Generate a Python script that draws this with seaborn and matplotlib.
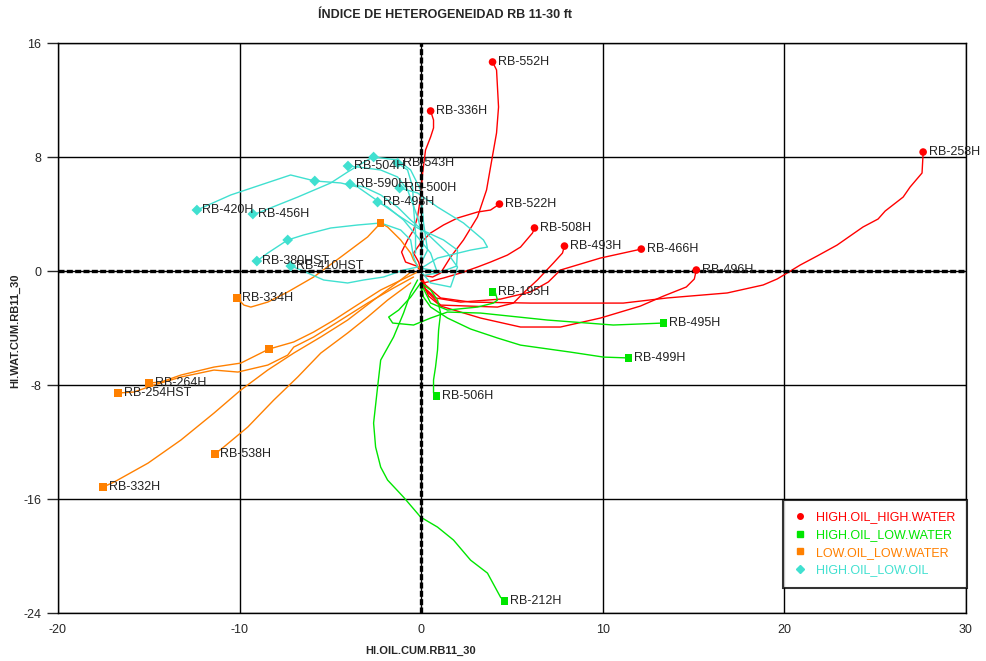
import seaborn as sns
import matplotlib.pyplot as plt
import pandas as pd
from matplotlib.lines import Line2D

# trajectories (origin -> last point)
high_high = {
    "RB-552H": ([0.02, 0.63, 1.07, 1.62, 2.33, 3.1, 3.6, 3.82, 4.15, 4.26, 4.15, 3.93],
                [-0.28, -0.42, -0.14, 0.98, 2.18, 3.79, 5.69, 7.3, 9.69, 11.51, 14.11, 14.67]),
    "RB-336H": ([0.02, -0.25, -0.86, -1.08, -0.75, -0.42, -0.2, -0.03, 0.08, 0.24, 0.52, 0.68, 0.68, 0.52],
                [-0.07, 0.35, 0.63, 1.33, 2.18, 2.88, 3.79, 5.2, 6.88, 8.49, 9.41, 10.04, 10.6, 11.23]),
    "RB-258H": ([-0.03, 0.24, 1.07, 2.72, 6.02, 9.87, 11.13, 13.55, 16.85, 18.83, 19.6, 20.15, 20.87, 21.8,
                 22.9, 23.62, 24.33, 25.16, 25.55, 26.54, 26.92, 27.58, 27.64, 27.64],
                [-0.28, -0.98, -1.89, -2.18, -2.25, -2.25, -2.25, -1.89, -1.54, -0.98, -0.56, -0.14, 0.42, 1.05,
                 1.82, 2.46, 3.09, 3.65, 4.21, 5.19, 5.89, 6.88, 8.28, 8.35]),
    "RB-522H": ([0.02, -0.14, -0.42, -0.03, 0.52, 1.23, 2.0, 3.1, 3.82, 4.31],
                [-0.07, 0.63, 1.26, 1.97, 2.67, 3.23, 3.72, 4.14, 4.28, 4.7]),
    "RB-508H": ([-0.03, 0.13, 1.23, 2.17, 3.1, 3.82, 4.75, 5.47, 6.13, 6.24],
                [-0.63, -0.84, -0.49, -0.14, 0.28, 0.63, 1.12, 1.68, 2.67, 3.02]),
    "RB-493H": ([0.02, 0.24, 1.07, 4.2, 5.08, 5.63, 6.4, 7.28, 7.78, 7.89],
                [-0.35, -1.33, -2.39, -2.53, -2.25, -1.54, -0.63, 0.56, 1.26, 1.75]),
    "RB-466H": ([0.02, 0.19, 0.79, 2.17, 4.37, 6.02, 7.0, 7.67, 9.87, 12.12],
                [-0.49, -1.19, -1.89, -2.18, -1.97, -1.47, -0.77, 0.07, 0.91, 1.54]),
    "RB-496H": ([0.02, 0.13, 0.41, 1.07, 3.27, 5.47, 7.67, 9.87, 12.07, 13.34, 14.6, 15.04, 15.15],
                [-0.28, -0.98, -1.76, -2.46, -3.3, -3.93, -3.93, -3.3, -2.46, -1.76, -1.12, -0.56, 0.07]),
}

high_low_water = {
    "RB-195H": ([0.08, 0.52, 1.45, 3.1, 3.98, 4.2, 4.09, 3.93],
                [-1.12, -2.25, -2.74, -2.53, -2.25, -2.04, -1.54, -1.47]),
    "RB-495H": ([-0.03, -0.58, -1.24, -1.79, -1.57, -0.42, 0.52, 1.45, 3.27, 6.95, 10.58, 13.34],
                [-0.84, -1.83, -2.74, -3.23, -3.65, -3.79, -3.3, -2.88, -2.95, -3.44, -3.79, -3.65]),
    "RB-499H": ([-0.03, 0.13, 0.52, 1.45, 2.72, 4.2, 5.47, 8.22, 10.04, 11.41],
                [-0.84, -1.83, -2.53, -3.3, -4.07, -4.7, -5.2, -5.69, -6.04, -6.1]),
    "RB-506H": ([-0.03, 0.52, 0.9, 1.07, 0.96, 0.9, 0.79, 0.68, 0.68, 0.85],
                [-0.84, -1.33, -2.04, -2.95, -4.14, -5.55, -6.74, -7.65, -8.56, -8.77]),
    "RB-212H": ([-0.2, -0.58, -0.97, -1.52, -2.23, -2.4, -2.62, -2.51, -2.23, -1.85, -0.97, -0.03, 0.9, 1.78,
                 2.72, 3.65, 4.37, 4.59],
                [-0.63, -1.54, -2.95, -4.63, -6.25, -8.14, -10.67, -12.35, -13.76, -14.67, -15.87, -17.27, -17.97,
                 -18.88, -20.29, -21.2, -22.89, -23.17]),
}

low_low_water = {
    "RB-334H": ([-0.03, -0.42, -0.58, -1.13, -1.85, -2.23, -2.95, -4.43, -5.92, -7.35, -8.45, -9.38, -9.76, -10.15],
                [0.07, 0.77, 1.26, 2.18, 3.09, 3.37, 2.39, 0.98, -0.42, -1.47, -2.18, -2.53, -2.39, -1.89]),
    "RB-264H": ([-0.2, -0.75, -2.23, -3.7, -4.8, -5.92, -7.02, -8.39, -9.93, -11.41, -13.23, -14.33, -14.99],
                [-0.07, -0.42, -1.33, -2.53, -3.44, -4.28, -4.98, -5.48, -6.46, -6.74, -7.3, -7.79, -7.86]),
    "RB-254HST": ([-0.42, -1.52, -2.95, -4.43, -5.92, -7.02, -7.35, -8.45, -10.09, -11.41, -13.23, -14.71, -15.81, -16.69],
                  [-0.42, -1.19, -2.25, -3.44, -4.63, -5.34, -5.9, -6.6, -7.09, -6.95, -7.44, -8.0, -8.49, -8.56]),
    "RB-538H": ([-0.58, -1.85, -2.95, -4.05, -5.53, -6.8, -8.12, -9.55, -10.87, -11.36],
                [-0.84, -2.04, -3.23, -4.35, -5.76, -7.44, -9.06, -10.95, -12.35, -12.84]),
    "RB-332H": ([-0.42, -1.13, -2.62, -4.05, -5.53, -7.02, -8.45, -9.93, -11.41, -13.23, -15.04, -16.91, -17.52],
                [0.07, -0.63, -2.04, -3.44, -4.63, -5.76, -6.95, -8.35, -9.97, -11.86, -13.48, -14.81, -15.16]),
}

high_low_oil = {
    "RB-420H": ([-0.03, 1.07, 1.95, 2.0, 1.23, -0.2, -1.3, -2.62, -3.5, -4.43, -5.86, -7.19, -8.84, -10.48, -12.35],
                [0.21, -0.07, 0.35, 1.47, 2.18, 3.02, 3.93, 5.12, 5.9, 6.18, 6.32, 6.74, 6.04, 5.34, 4.28]),
    "RB-456H": ([0.08, 0.35, 0.13, -0.03, -0.58, -1.3, -2.62, -2.95, -4.05, -4.98, -6.8, -9.0, -9.27],
                [0.77, 1.47, 3.37, 5.69, 7.09, 7.79, 8.0, 7.79, 6.95, 6.18, 5.19, 4.07, 4.0]),
    "RB-504H": ([-0.03, 0.13, -0.2, -0.75, -1.3, -2.23, -3.5, -4.03],
                [0.77, 2.18, 3.79, 5.69, 6.6, 7.09, 7.3, 7.37]),
    "RB-543H": ([-0.31, -0.31, -0.42, -0.47, -0.75, -1.3],
                [1.26, 2.67, 4.49, 5.9, 7.09, 7.58]),
    "RB-590H": ([0.02, 0.52, 1.62, 2.0, 1.45, 0.52, -0.58, -1.3, -2.23, -3.17, -3.92],
                [-0.07, -0.84, -1.12, 0.28, 1.26, 2.39, 3.58, 4.49, 5.34, 5.9, 6.1]),
    "RB-500H": ([0.02, 0.9, 2.72, 3.65, 3.43, 2.33, 0.9, -0.2, -1.19],
                [0.21, 0.91, 1.47, 1.68, 2.18, 3.37, 4.49, 5.48, 5.82]),
    "RB-498H": ([0.24, 0.9, 0.52, -0.2, -0.97, -1.85, -2.4],
                [-0.28, -0.14, 1.26, 2.39, 3.58, 4.49, 4.84]),
    "RB-380HST": ([-0.2, -0.42, -0.58, -1.13, -2.23, -3.5, -4.98, -6.47, -7.35, -8.45, -9.05],
                  [0.28, 0.98, 2.18, 2.88, 3.37, 3.23, 3.02, 2.53, 2.18, 1.26, 0.7]),
    "RB-410HST": ([-0.2, -0.97, -2.07, -3.17, -4.05, -5.37, -6.62, -7.18],
                  [0.28, 0.07, -0.42, -0.63, -0.84, -0.63, 0.07, 0.35]),
}

# intermediate markers along some paths
mid_x = [-5.86, -2.62, -7.35, -8.39, -2.23]
mid_y = [6.32, 8.0, 2.18, -5.48, 3.37]
mid_group = ["HIGH.OIL_LOW.OIL", "HIGH.OIL_LOW.OIL", "HIGH.OIL_LOW.OIL",
             "LOW.OIL_LOW.WATER", "LOW.OIL_LOW.WATER"]

groups = ["HIGH.OIL_HIGH.WATER", "HIGH.OIL_LOW.WATER", "LOW.OIL_LOW.WATER", "HIGH.OIL_LOW.OIL"]
colors = ["#FF0000", "#00E600", "#FF8000", "#40E0D0"]
markers = ["o", "s", "s", "D"]
palette = dict(zip(groups, colors))
marker_map = dict(zip(groups, markers))

rows = []
for grp, wells in zip(groups, [high_high, high_low_water, low_low_water, high_low_oil]):
    for well, (xs, ys) in wells.items():
        for i, (x, y) in enumerate(zip(xs, ys)):
            rows.append({"well": well, "group": grp, "step": i, "x": x, "y": y})
df = pd.DataFrame(rows)
ends = df.groupby("well").tail(1)
mids = pd.DataFrame({"x": mid_x, "y": mid_y, "group": mid_group})

sns.set_style("white")
plt.rcParams["font.family"] = ["Liberation Sans", "DejaVu Sans"]
plt.rcParams["axes.unicode_minus"] = False

fig = plt.figure(figsize=(9.86, 6.61), dpi=100)
ax = fig.add_axes([0.0588, 0.0726, 0.9209, 0.8623])

sns.lineplot(data=df, x="x", y="y", hue="group", units="well", estimator=None, sort=False,
             palette=palette, lw=1.0, legend=False, ax=ax, zorder=2)

ax.axhline(0, color="k", lw=2.4, ls=(0, (1.8, 0.7)), zorder=3)
ax.axvline(0, color="k", lw=2.4, ls=(0, (1.8, 0.7)), zorder=3)

pts = pd.concat([ends[["x", "y", "group"]], mids])
sns.scatterplot(data=pts, x="x", y="y", hue="group", style="group", palette=palette,
                markers=marker_map, s=30, linewidth=0, legend=False, ax=ax, zorder=4)

for _, r in ends.iterrows():
    ax.annotate(r["well"], (r["x"], r["y"]), xytext=(4, 0), textcoords="offset points",
                va="center", ha="left", fontsize=9, color="#222222", zorder=5)

ax.set_xlim(-20, 30)
ax.set_ylim(-24, 16)
ax.set_xticks(range(-20, 31, 10))
ax.set_yticks(range(-24, 17, 8))
ax.grid(True, color="k", lw=1)
ax.set_axisbelow(True)
ax.tick_params(axis="y", left=True, length=8, width=1, direction="out", pad=4, labelsize=9)
ax.tick_params(axis="x", bottom=False, length=0, pad=8, labelsize=9)
for s in ax.spines.values():
    s.set_color("k")
    s.set_linewidth(1)
ax.set_xlabel("")
ax.set_ylabel("")

handles = [Line2D([], [], ls="none", marker=m, color=c, markersize=4, label=g)
           for g, c, m in zip(groups, colors, markers)]
leg = ax.legend(handles=handles, loc="upper right", bbox_to_anchor=(1.001, 0.198),
                borderaxespad=0, fontsize=9, frameon=True, fancybox=False, handletextpad=0.8,
                handlelength=1.0, borderpad=0.9, labelspacing=0.45)
leg.get_frame().set_edgecolor("k")
leg.get_frame().set_linewidth(1.5)
for t, c in zip(leg.get_texts(), colors):
    t.set_color(c)
leg.set_zorder(6)

narrow = ["Liberation Sans Narrow", "Liberation Sans", "DejaVu Sans"]
fig.text(0.451, 0.977, "ÍNDICE DE HETEROGENEIDAD RB 11-30 ft", ha="center", va="center",
         fontsize=9, fontweight="bold", family=narrow)
fig.text(0.427, 0.015, "HI.OIL.CUM.RB11_30", ha="center", va="center",
         fontsize=8, fontweight="bold", family=narrow)
fig.text(0.015, 0.5, "HI.WAT.CUM.RB11_30", ha="center", va="center", rotation=90,
         fontsize=8, fontweight="bold", family=narrow)

fig.savefig("out.png", dpi=100)
